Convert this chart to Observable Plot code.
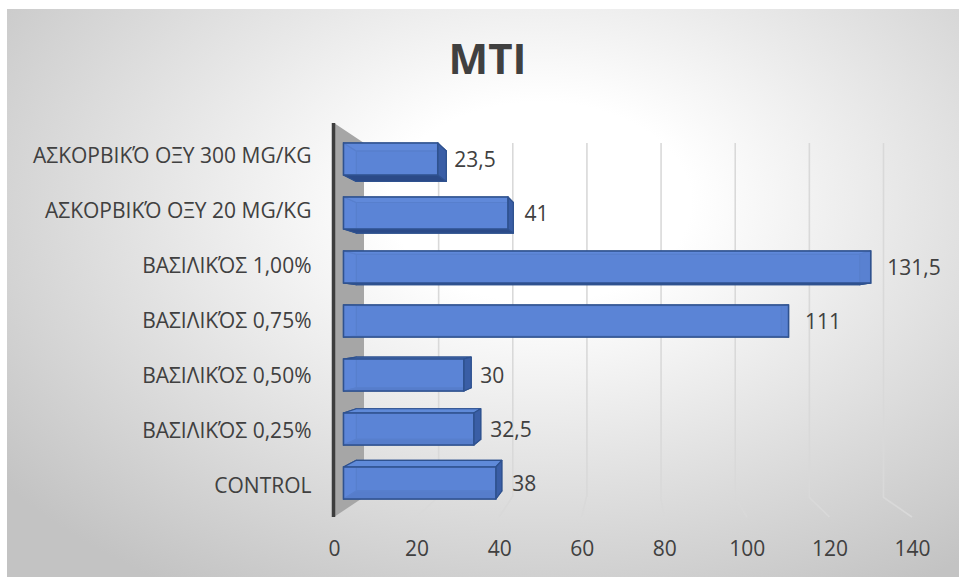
<!DOCTYPE html>
<html>
<head>
<meta charset="utf-8">
<script src="https://cdn.jsdelivr.net/npm/d3@7"></script>
<script src="https://cdn.jsdelivr.net/npm/@observablehq/plot@0.6"></script>
<style>
  html, body { margin: 0; padding: 0; background: #fff; }
  #chart { position: relative; width: 959px; height: 577px; overflow: hidden; background: #fff; font-family: "Open Sans", sans-serif; }
  #bg { position: absolute; left: 7px; top: 9px; width: 952px; height: 568px;
        background: radial-gradient(ellipse 72% 80% at 56% 34%, #ffffff 0%, #ffffff 22%, #c3c3c3 100%); }
  #title { position: absolute; left: 8px; width: 959px; top: 37px; line-height: 42px; text-align: center;
           font-size: 42px; font-weight: 700; color: #404040; }
  .layer { position: absolute; left: 0; top: 0; }
</style>
</head>
<body>
<div id="chart">
  <div id="bg"></div>
  <div id="title">MTI</div>
</div>
<script>
// MTI per treatment group
const categories = [
  "ΑΣΚΟΡΒΙΚΌ ΟΞΥ 300 MG/KG",
  "ΑΣΚΟΡΒΙΚΌ ΟΞΥ 20 MG/KG",
  "ΒΑΣΙΛΙΚΌΣ 1,00%",
  "ΒΑΣΙΛΙΚΌΣ 0,75%",
  "ΒΑΣΙΛΙΚΌΣ 0,50%",
  "ΒΑΣΙΛΙΚΌΣ 0,25%",
  "CONTROL"
];
const mti = [23.5, 41, 131.5, 111, 30, 32.5, 38];
const xTicks = [0, 20, 40, 60, 80, 100, 120, 140];

const rows = categories.map((category, i) => ({category, value: mti[i]}));
const comma = v => String(v).replace(".", ",");

const W = 959, H = 577;
const fontSize = 21;
const baseStyle = {background: "none", overflow: "visible", fontFamily: "\"Open Sans\", sans-serif", fontSize: fontSize + "px", color: "#404040"};
const chart = document.getElementById("chart");
function addLayer(svg) { svg.classList.add("layer"); chart.appendChild(svg); }

// planes of the 3D box: back wall, front edge of the floor, front faces of the bars
const backTop = 143, backBottom = H - 80;
const frontTop = 123, frontBottom = H - 60;
const barRangeY = [120.3, 521.4];
const backX = {domain: [0, 140], range: [364, W - 76]};
const frontX = {domain: [0, 140], range: [334, W - 47]};

const bx = Plot.scale({x: backX});
const fx = Plot.scale({x: frontX});

// vanishing point of the perspective, from the front and back planes
const s = (bx.apply(140) - bx.apply(0)) / (fx.apply(140) - fx.apply(0));
const vp = [(bx.apply(0) - s * fx.apply(0)) / (1 - s), (backTop - s * frontTop) / (1 - s)];
const depth = 0.045;
const recede = ([px, py]) => [px + (vp[0] - px) * depth, py + (vp[1] - py) * depth];

// Back wall: vertical gridlines
addLayer(Plot.plot({
  width: W, height: H,
  marginLeft: backX.range[0], marginRight: W - backX.range[1], marginTop: backTop, marginBottom: H - backBottom,
  x: {...backX, axis: null},
  style: baseStyle,
  marks: [
    Plot.ruleX(xTicks.filter(t => t > 0), {stroke: "#d9d9d9", strokeWidth: 1.6})
  ]
}));

// Front edge: side wall, floor lines, value axis and category labels
const barX0 = 343.5, barX1 = 904.8;
const frontScaleY = (fx.apply(140) - fx.apply(0)) / (barX1 - barX0);
const labelRangeY = barRangeY.map(r => vp[1] + (r - vp[1]) * frontScaleY);

addLayer(Plot.plot({
  width: W, height: H,
  marginLeft: frontX.range[0], marginRight: W - frontX.range[1], marginTop: frontTop, marginBottom: H - frontBottom,
  x: frontX,
  y: {type: "band", domain: categories, range: labelRangeY, padding: 0.4},
  style: baseStyle,
  marks: [
    (index, {x}) => {
      const g = d3.create("svg:g");
      const f0 = x(0), b0 = bx.apply(0);
      g.append("polygon")
        .attr("points", [[f0, frontTop], [b0, backTop], [b0, backBottom], [f0, frontBottom]].join(" "))
        .attr("fill", "#a6a6a6");
      for (const t of xTicks.filter(t => t > 0)) {
        g.append("line")
          .attr("x1", bx.apply(t)).attr("y1", backBottom)
          .attr("x2", x(t)).attr("y2", frontBottom)
          .attr("stroke", "#d9d9d9").attr("stroke-width", 1.6);
      }
      return g.node();
    },
    Plot.ruleX([0], {stroke: "#3d3d3d", strokeWidth: 3.5, dx: -1}),
    Plot.axisX(xTicks, {tickSize: 0, tickPadding: 24, label: null, fontSize}),
    Plot.axisY({tickSize: 0, tickPadding: 23, label: null, dy: 0, fontSize})
  ]
}));

// hidden faces of each bar, drawn before the translucent front face
function barBoxes(index, {x, y}) {
  const g = d3.create("svg:g").attr("stroke", "#2f528f").attr("stroke-width", 1.2).attr("stroke-linejoin", "round");
  const bw = y.bandwidth();
  for (const d of rows) {
    const yt = y(d.category), yb = yt + bw, x0 = x(0), x1 = x(d.value);
    const f = [[x0, yt], [x1, yt], [x1, yb], [x0, yb]];
    const b = f.map(recede);
    const face = (pts, fill) => g.append("polygon").attr("points", pts.join(" ")).attr("fill", fill);
    face(b, "#4472c4");
    face([f[0], f[3], b[3], b[0]], "#4d7bcf");
    face([f[0], f[1], b[1], b[0]], "#5f8ad9");
    face([f[3], f[2], b[2], b[3]], "#2b4a88");
    face([f[1], f[2], b[2], b[1]], "#3a5ea6");
  }
  return g.node();
}

addLayer(Plot.plot({
  width: W, height: H,
  marginLeft: barX0, marginRight: W - barX1,
  x: {domain: [0, 140], axis: null},
  y: {type: "band", domain: categories, range: barRangeY, padding: 0.4, axis: null},
  style: baseStyle,
  marks: [
    barBoxes,
    Plot.barX(rows, {x: "value", y: "category", fill: "#6089db", fillOpacity: 0.82, stroke: "#2f528f", strokeWidth: 1.5}),
    Plot.text(rows, {x: "value", y: "category", text: d => comma(d.value), textAnchor: "start", dx: 16, dy: 1, fontSize, fill: "#404040"})
  ]
}));
</script>
</body>
</html>
